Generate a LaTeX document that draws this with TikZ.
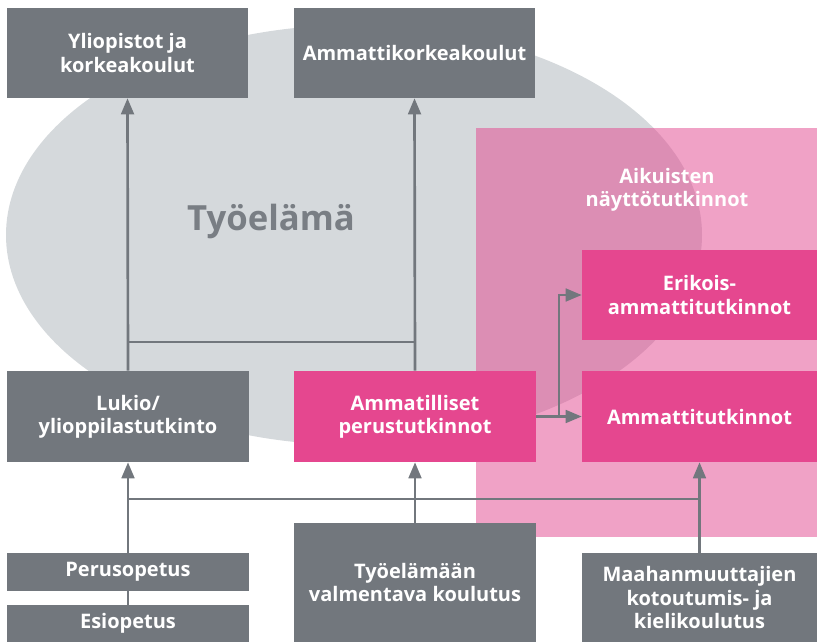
\documentclass[tikz,border=0pt]{standalone}
\usepackage{fontspec}
\setmainfont{Open Sans}
\usetikzlibrary{arrows.meta}
\definecolor{boxgray}{HTML}{72777D}
\definecolor{boxpink}{HTML}{E5478F}
\definecolor{bgpink}{HTML}{F0A2C6}
\definecolor{bggray}{HTML}{D5D9DC}
\definecolor{bgmix}{HTML}{DC8EB4}
\definecolor{textgray}{HTML}{797E84}
\tikzset{
	box/.style={fill=boxgray, text=white, font=\bfseries\fontsize{15}{17.5}\selectfont, align=center, inner sep=0pt},
	pinkbox/.style={box, fill=boxpink},
	conn/.style={draw=boxgray, line width=2pt, -{Triangle[length=12pt,width=9.5pt]}},
	plain/.style={draw=boxgray, line width=2pt}
}
\begin{document}
	\begin{tikzpicture}[x=0.75pt,y=-0.75pt]
		\useasboundingbox (0,0) rectangle (817,642);
		\fill[bggray] (354,235) ellipse [x radius=261pt, y radius=157.5pt];
		\fill[bgpink] (476,128) rectangle (817,537);
		\begin{scope}
			\clip (476,128) rectangle (817,537);
			\fill[bgmix] (354,235) ellipse [x radius=261pt, y radius=157.5pt];
		\end{scope}
		\node[font=\bfseries\fontsize{26}{30}\selectfont, text=textgray] (TE) at (271,221) {Työelämä};
		\node[font=\bfseries\fontsize{15}{17.5}\selectfont, text=white, align=center] (AN) at (667,190) {Aikuisten\\näyttötutkinnot};
		\node[box, minimum width=180.75pt, minimum height=67.5pt] (Yo1) at (127.5,53) {Yliopistot ja\\korkeakoulut};
		\node[box, minimum width=180.75pt, minimum height=67.5pt] (Amk2) at (414.5,53) {Ammattikorkeakoulut};
		\node[box, minimum width=181.5pt, minimum height=68.25pt] (Luk3) at (128,416.5) {Lukio/\\ylioppilastutkinto};
		\node[pinkbox, minimum width=181.5pt, minimum height=68.25pt] (Per4) at (415,416.5) {Ammatilliset\\perustutkinnot};
		\node[pinkbox, minimum width=176.25pt, minimum height=68.25pt] (Amt5) at (699.5,416.5) {Ammattitutkinnot};
		\node[pinkbox, minimum width=176.25pt, minimum height=67.5pt] (Eri6) at (699.5,295) {Erikois-\\ammattitutkinnot};
		\node[box, minimum width=181.5pt, minimum height=28.5pt] (Pop7) at (128,572) {Perusopetus};
		\node[box, minimum width=181.5pt, minimum height=27.75pt] (Eop8) at (128,623.5) {Esiopetus};
		\node[box, minimum width=181.5pt, minimum height=89.25pt] (Val9) at (415,582.5) {Työelämään\\valmentava koulutus};
		\node[box, minimum width=176.25pt, minimum height=66.75pt] (Maa10) at (699.5,597.5) {Maahanmuuttajien\\kotoutumis- ja\\kielikoulutus};
		\coordinate (lowbus) at (0,499);
		\coordinate (upbus) at (0,342);
		\coordinate (split) at (559,417);
		\draw[plain] (Pop7.south) -- (Eop8.north);
		\draw[conn] (Pop7.north) -- (Luk3.south);
		\draw[plain] (lowbus -| Luk3.south) -- (lowbus -| Amt5.south);
		\draw[conn] (Val9.north) -- (Per4.south);
		\draw[conn] (Maa10.north) -- (Amt5.south);
		\draw[conn] (Luk3.north) -- (Yo1.south);
		\draw[conn] (Per4.north) -- (Amk2.south);
		\draw[plain] (upbus -| Luk3.north) -- (upbus -| Per4.north);
		\draw[conn] (Per4.east) -- (Amt5.west);
		\draw[conn] (split) |- (Eri6.west);
	\end{tikzpicture}
\end{document}
